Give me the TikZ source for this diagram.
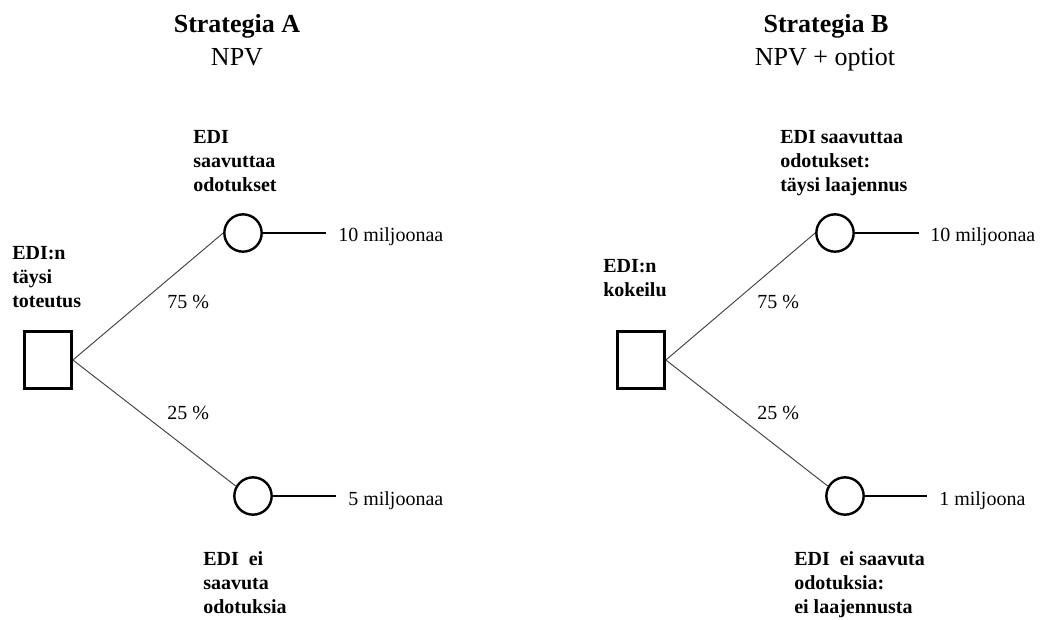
\documentclass[tikz,border=0pt]{standalone}
\usepackage{fontspec}
\setmainfont{Liberation Serif}
\usetikzlibrary{positioning}

\begin{document}
\begin{tikzpicture}[x=0.75pt,y=-0.75pt,
    decision/.style={draw,line width=1.8pt,minimum width=35.5pt,minimum height=43pt,inner sep=0pt},
    chance/.style={draw,circle,line width=1.8pt,minimum size=28pt,inner sep=0pt},
    branch/.style={draw=black!75,line width=0.7pt},
    payoff/.style={draw,line width=0.9pt},
    txt/.style={font=\fontsize{15}{18}\selectfont,inner sep=0pt,anchor=base west},
    event/.style={font=\fontsize{15}{18}\selectfont\bfseries,align=left,inner sep=0pt,anchor=base west},
    heading/.style={font=\fontsize{19.5}{24}\selectfont,inner sep=0pt,anchor=base}]
    \useasboundingbox(0,0)rectangle(1041,619);
    % Strategia A
    \node[heading,font=\fontsize{19.5}{24}\selectfont\bfseries](titA)at(237,32){Strategia A};
    \node[heading](subA)at(237,65){NPV};
    \node[decision](sqA)at(48,360){};
    \node[chance](upA)at(243,233){};
    \node[chance](dnA)at(253,496){};
    \coordinate(endUA)at(326,233);
    \coordinate(endDA)at(336,496);
    \draw[branch](sqA.east)--(upA.west);
    \draw[branch](sqA.east)--(dnA.150);
    \draw[payoff](upA.east)--(endUA);
    \draw[payoff](dnA.east)--(endDA);
    \node[txt](valUA)at(338,241){10 miljoonaa};
    \node[txt](valDA)at(348,505){5 miljoonaa};
    \node[txt](pUA)at(167,308){75 \%};
    \node[txt](pDA)at(167,419){25 \%};
    % anchor base = baseline of the last line
    \node[event](evSA)at(12,307){EDI:n\\täysi\\toteutus};
    \node[event](evUA)at(193,191){EDI\\saavuttaa\\odotukset};
    \node[event](evDA)at(203,613){EDI\ \ ei\\saavuta\\odotuksia};
    % Strategia B
    \node[heading,font=\fontsize{19.5}{24}\selectfont\bfseries](titB)at(826,32){Strategia B};
    \node[heading](subB)at(825,65){NPV + optiot};
    \node[decision](sqB)at(641,360){};
    \node[chance](upB)at(835,233){};
    \node[chance](dnB)at(845,496){};
    \coordinate(endUB)at(919,233);
    \coordinate(endDB)at(927,496);
    \draw[branch](sqB.east)--(upB.west);
    \draw[branch](sqB.east)--(dnB.150);
    \draw[payoff](upB.east)--(endUB);
    \draw[payoff](dnB.east)--(endDB);
    \node[txt](valUB)at(930,241){10 miljoonaa};
    \node[txt](valDB)at(939,505){1 miljoona};
    \node[txt](pUB)at(757,308){75 \%};
    \node[txt](pDB)at(757,419){25 \%};
    \node[event](evSB)at(603,296){EDI:n\\kokeilu};
    \node[event](evUB)at(780,191){EDI saavuttaa\\odotukset:\\täysi laajennus};
    \node[event](evDB)at(794,613){EDI\ \ ei saavuta\\odotuksia:\\ei laajennusta};
\end{tikzpicture}
\end{document}
